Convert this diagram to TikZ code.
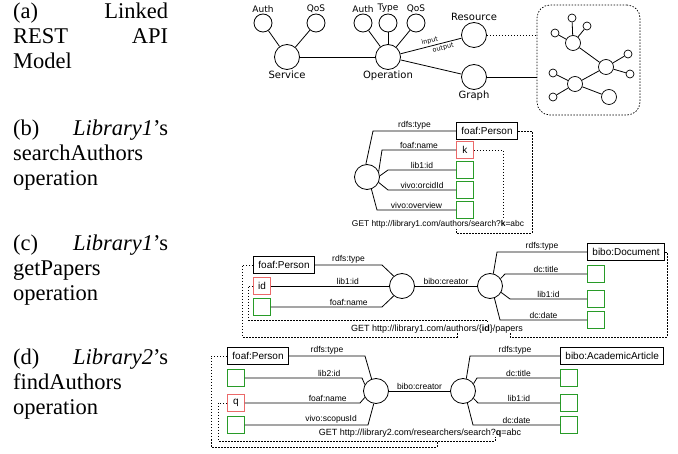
\documentclass[tikz,border=0pt]{standalone}
\usepackage{fontspec}
\setmainfont{Liberation Serif}
\setsansfont{Liberation Sans}
\newfontfamily\modelfont{DejaVu Sans}
\setlength{\parindent}{0pt}
\definecolor{valgreen}{RGB}{40,155,40}
\definecolor{keyred}{RGB}{235,105,105}

\begin{document}
\begin{tikzpicture}[x=1pt, y=-1pt,
    hub/.style={circle, draw, line width=0.8pt, minimum size=25pt, inner sep=0pt},
    facet/.style={circle, draw, line width=0.8pt, minimum size=18pt, inner sep=0pt},
    knot/.style={circle, draw, line width=0.7pt, minimum size=15pt, inner sep=0pt},
    leaf/.style={circle, draw, line width=0.7pt, minimum size=8pt, inner sep=0pt},
    wire/.style={line width=0.8pt},
    link/.style={line width=0.7pt, dash pattern=on 1.5pt off 1.5pt},
    every label/.style={inner sep=1pt, font=\modelfont\fontsize{9}{10}\selectfont},
    bigtag/.style={font=\modelfont\fontsize{10}{12}\selectfont},
    flowtag/.style={sloped, inner sep=1.5pt, font=\modelfont\fontsize{6.5}{7}\selectfont},
    cls/.style={draw, line width=0.9pt, anchor=west, minimum height=17pt, inner xsep=5pt, inner ysep=0pt, font=\sffamily\fontsize{10}{12}\selectfont},
    valbox/.style={draw=valgreen, line width=0.9pt, anchor=west, minimum size=17pt, inner sep=0pt, font=\sffamily\fontsize{10}{12}\selectfont},
    keybox/.style={valbox, draw=keyred},
    predicate/.style={above, inner sep=1.5pt, font=\sffamily\fontsize{8.5}{10}\selectfont},
    getline/.style={inner sep=0pt, font=\sffamily\fontsize{9}{11}\selectfont},
    subcap/.style={anchor=north west, text width=155pt, align=left, inner sep=0pt, font=\fontsize{22.5}{25}\selectfont}]
  \useasboundingbox (0,0) rectangle (678,454);

  % captions
  \node[subcap] (capA) at (13,3) {(a)\hfill Linked\\REST\hfill API\\Model};
  \node[subcap] (capB) at (13,120) {(b)\hfill \textit{Library1}'s\\searchAuthors\\operation};
  \node[subcap] (capC) at (13,235) {(c)\hfill \textit{Library1}'s\\getPapers\\operation};
  \node[subcap] (capD) at (13,349) {(d)\hfill \textit{Library2}'s\\findAuthors\\operation};

  % (a) model
  \node[facet, label=above:Auth] (authS) at (263,23) {};
  \node[facet, label=above:QoS] (qosS) at (316,23) {};
  \node[hub, label={[bigtag]below:Service}] (service) at (287,57) {};
  \node[hub, label={[bigtag]below:Operation}] (operation) at (388,57) {};
  \node[facet, label=above:Auth] (authO) at (363,23) {};
  \node[facet, label=above:Type] (typeO) at (388,23) {};
  \node[facet, label=above:QoS] (qosO) at (416,23) {};
  \node[hub, label={[bigtag]above:Resource}] (resource) at (474,35) {};
  \node[hub, label={[bigtag]below:Graph}] (graph) at (474,77) {};
  \foreach \a/\b in {authS/service, qosS/service, service/operation, authO/operation, typeO/operation, qosO/operation, operation/graph}
    \draw[wire] (\a) -- (\b);
  \draw[wire] (operation) -- node[pos=.5, flowtag, above] {input} node[pos=.68, flowtag, below] {output} (resource);

  \node[draw, link, rounded corners=13pt, minimum width=103pt, minimum height=110pt] (graphbox) at (588.5,60) {};
  \draw[link] (resource) -- (resource -| graphbox.west);
  \draw[wire] (graph) -- (graph -| graphbox.west);
  \node[knot] (gA) at (573,43) {};
  \node[leaf] (gA1) at (572,18) {};
  \node[leaf] (gA2) at (587,26) {};
  \node[leaf] (gA3) at (555,33) {};
  \node[knot] (gB) at (606,67) {};
  \node[leaf] (gB1) at (628,54) {};
  \node[leaf] (gB2) at (630,74) {};
  \node[knot] (gC) at (575,84) {};
  \node[leaf] (gC1) at (553,73) {};
  \node[leaf] (gC2) at (553,97) {};
  \node[knot] (gD) at (609,97) {};
  \foreach \a/\b in {gA/gA1, gA/gA2, gA/gA3, gA/gB, gB/gB1, gB/gB2, gB/gC, gC/gC1, gC/gC2, gC/gD}
    \draw[wire] (\a) -- (\b);

  % (b) searchAuthors
  \node[hub] (searchB) at (367,177) {};
  \node[cls] (personB) at (456,131) {foaf:Person};
  \node[keybox] (kB) at (456,150) {k};
  \node[valbox] (idB) at (456,170) {};
  \node[valbox] (orcidB) at (456,190) {};
  \node[valbox] (overviewB) at (456,210) {};
  \node[getline, font=\sffamily\fontsize{8.4}{10}\selectfont] (getB) at (438,224) {GET http://library1.com/authors/search?\textbf{k}=abc};
  \draw[wire] (searchB.95) -- (373,131) -- node[predicate] {rdfs:type} (personB.west);
  \draw[wire] (searchB.25) -- (382,150) -- node[predicate] {foaf:name} (kB.west);
  \draw[wire] (searchB.5) -- (388,170) -- node[predicate] {lib1:id} (idB.west);
  \draw[wire] (searchB.-25) -- (388,190) -- node[predicate] {vivo:orcidId} (orcidB.west);
  \draw[wire] (searchB.-70) -- (377,210) -- node[predicate] {vivo:overview} (overviewB.west);
  \coordinate (kRefB) at (503,218);
  \coordinate (authorsB) at (456,229);
  \draw[link] (kB.east) -| (kRefB);
  \draw[link] (personB.east) -| (532,233) -| (authorsB);

  % (c) getPapers
  \node[cls] (personC) at (253,265) {foaf:Person};
  \node[keybox] (idC) at (253,286) {id};
  \node[valbox] (nameC) at (253,307) {};
  \node[hub] (authorC) at (402,286) {};
  \node[hub] (paperC) at (490,286) {};
  \node[cls] (docC) at (587,252) {bibo:Document};
  \node[valbox] (titleC) at (587,274) {};
  \node[valbox] (libidC) at (587,299) {};
  \node[valbox] (dateC) at (587,320) {};
  \node[getline] (getC) at (437,329) {GET http://library1.com/authors/\{\textbf{id}\}/papers};
  \draw[wire] (personC.east) -- node[predicate] {rdfs:type} (382,265) -- (authorC.130);
  \draw[wire] (idC.east) -- node[predicate, pos=.65] {lib1:id} (authorC.west);
  \draw[wire] (nameC.east) -- node[predicate, pos=.7] {foaf:name} (382,307) -- (authorC.230);
  \draw[wire] (authorC) -- node[predicate] {bibo:creator} (paperC);
  \draw[wire] (paperC.75) -- (497,252) -- node[predicate] {rdfs:type} (docC.west);
  \draw[wire] (paperC.35) -- (505,274) -- node[predicate] {dc:title} (titleC.west);
  \draw[wire] (paperC.-30) -- (510,299) -- node[predicate] {lib1:id} (libidC.west);
  \draw[wire] (paperC.-70) -- (500,320) -- node[predicate] {dc:date} (dateC.west);
  \coordinate (authorsC) at (457,333);
  \coordinate (idRefC) at (487,323);
  \coordinate (papersRefC) at (510,333);
  \draw[link] (personC.west) -| (242,337) -| (authorsC);
  \draw[link] (idC.west) -| (248,320) -| (idRefC);
  \draw[link] (docC.east) -| (667,337) -| (papersRefC);

  % (d) findAuthors
  \node[cls] (personD) at (227,356) {foaf:Person};
  \node[valbox] (lib2D) at (227,378) {};
  \node[keybox] (qD) at (227,403) {q};
  \node[valbox] (scopusD) at (227,425) {};
  \node[hub] (authorD) at (376,391) {};
  \node[hub] (articleD) at (463,391) {};
  \node[cls] (artD) at (560,356) {bibo:AcademicArticle};
  \node[valbox] (titleD) at (560,378) {};
  \node[valbox] (libidD) at (560,403) {};
  \node[valbox] (dateD) at (560,425) {};
  \node[getline] (getD) at (420,433) {GET http://library2.com/researchers/search?\textbf{q}=abc};
  \draw[wire] (personD.east) -- node[predicate] {rdfs:type} (365,356) -- (authorD.110);
  \draw[wire] (lib2D.east) -- node[predicate, pos=.72] {lib2:id} (362,378) -- (authorD.150);
  \draw[wire] (qD.east) -- node[predicate, pos=.72] {foaf:name} (360,403) -- (authorD.210);
  \draw[wire] (scopusD.east) -- node[predicate, pos=.7] {vivo:scopusId} (368,425) -- (authorD.-100);
  \draw[wire] (authorD) -- node[predicate] {bibo:creator} (articleD);
  \draw[wire] (articleD.75) -- (470,356) -- node[predicate] {rdfs:type} (artD.west);
  \draw[wire] (articleD.35) -- (477,378) -- node[predicate] {dc:title} (titleD.west);
  \draw[wire] (articleD.-35) -- (478,403) -- node[predicate] {lib1:id} (libidD.west);
  \draw[wire] (articleD.-70) -- (473,425) -- node[predicate] {dc:date} (dateD.west);
  \coordinate (researchersD) at (437,441);
  \coordinate (qRefD) at (495,437);
  \draw[link] (personD.west) -| (211,447) -| (researchersD);
  \draw[link] (qD.west) -| (218,441) -| (qRefD);
\end{tikzpicture}
\end{document}
